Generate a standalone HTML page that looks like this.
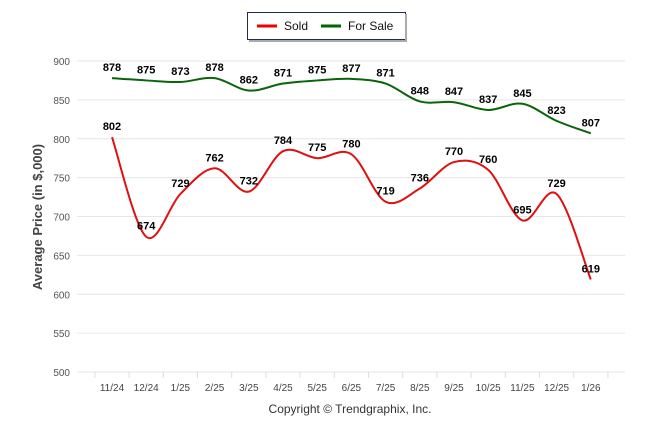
<!DOCTYPE html>
<html><head><meta charset="utf-8"><style>
body{margin:0;background:#fff;font-family:"Liberation Sans",sans-serif}
svg{display:block}
</style></head><body>
<svg id="c" width="646" height="434">
<g>
<rect x="247.5" y="12.5" width="158" height="27" fill="#fff" stroke="#1f2a55" stroke-width="1"/>
<rect x="405" y="14" width="2" height="27" fill="#aaa"/><rect x="249" y="40" width="158" height="2" fill="#aaa"/>
<line x1="257" y1="26" x2="277" y2="26" stroke="#e00" stroke-width="3"/>
<text x="284" y="30" font-size="12" fill="#111">Sold</text>
<line x1="321" y1="26" x2="341" y2="26" stroke="#060" stroke-width="3"/>
<text x="348" y="30" font-size="12" fill="#111">For Sale</text>
</g>
<text transform="translate(42,217) rotate(-90)" text-anchor="middle" font-size="13" font-weight="bold" fill="#444">Average Price (in $,000)</text>
<text x="350" y="413" text-anchor="middle" font-size="12" fill="#333">Copyright © Trendgraphix, Inc.</text>
<g id="grid"></g><g id="series"></g>
</svg>
<script>
const categories=["11/24","12/24","1/25","2/25","3/25","4/25","5/25","6/25","7/25","8/25","9/25","10/25","11/25","12/25","1/26"];
const sold=[802,674,729,762,732,784,775,780,719,736,770,760,695,729,619];
const forSale=[878,875,873,878,862,871,875,877,871,848,847,837,845,823,807];
const yTicks=[500,550,600,650,700,750,800,850,900];
const NS="http://www.w3.org/2000/svg";
const x=i=>112+i*34.2;
const y=v=>372-(v-500)*(311/400);
function mk(t,a,p){const e=document.createElementNS(NS,t);for(const k in a)e.setAttribute(k,a[k]);p.appendChild(e);return e;}
const g=document.getElementById('grid');
yTicks.forEach(v=>{
 const l=mk('line',{x1:77,x2:625,y1:y(v),y2:y(v),stroke:'#e6e6e6'},g);
 
 
 const t=mk('text',{x:70,y:y(v)+4,'text-anchor':'end','font-size':10,fill:'#555'},g);
 
 
 t.textContent=v;
});
categories.forEach((c,i)=>{
 const t=mk('text',{x:x(i),y:391,'text-anchor':'middle','font-size':10,fill:'#444'},g);
 
 
 t.textContent=c;
});
for(let i=0;i<=15;i++){const tk=mk('line',{x1:x(i)-17.1,x2:x(i)-17.1,y1:372,y2:378,stroke:'#ddd'},g);
 
 }
function path(vals){
 const p=vals.map((v,i)=>[x(i),y(v)]);let d='M'+p[0][0]+','+p[0][1];
 for(let i=0;i<p.length-1;i++){const p0=p[Math.max(0,i-1)],p1=p[i],p2=p[i+1],p3=p[Math.min(p.length-1,i+2)];
  const c1=[p1[0]+(p2[0]-p0[0])/6,p1[1]+(p2[1]-p0[1])/6],c2=[p2[0]-(p3[0]-p1[0])/6,p2[1]-(p3[1]-p1[1])/6];
  d+=' C'+c1+' '+c2+' '+p2;}
 return d;}
const s=document.getElementById('series');
[[forSale,'#0a650a','forsale'],[sold,'#e01010','sold']].forEach(([vals,col,nm])=>{
 const l=mk('path',{d:path(vals),fill:'none',stroke:col,'stroke-width':2},s);
 
 
 vals.forEach((v,i)=>{
  const t=mk('text',{x:x(i),y:y(v)-7,'text-anchor':'middle','font-size':11,'font-weight':'bold',fill:'#000'},s);
  
  
  t.textContent=v;
 });
});
</script>
</body></html>
